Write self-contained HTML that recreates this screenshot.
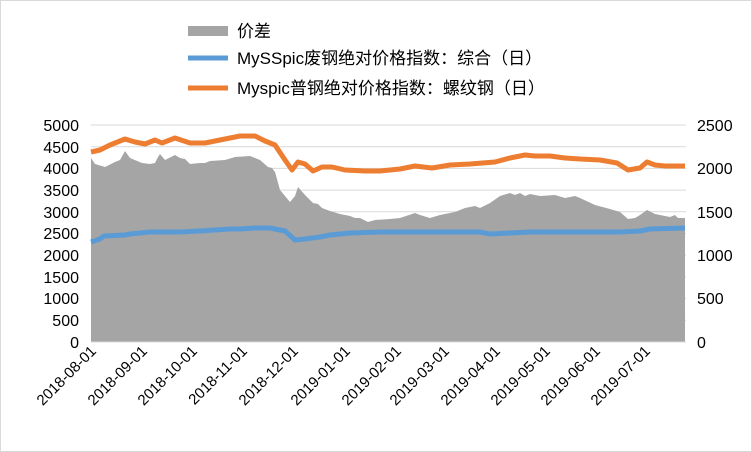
<!DOCTYPE html>
<html><head><meta charset="utf-8"><style>
body{margin:0;background:#fff}
svg{display:block;font-family:"Liberation Sans","Noto Sans CJK SC",sans-serif}
</style></head><body>
<svg width="752" height="452" viewBox="0 0 752 452">
<rect x="0.5" y="0.5" width="751" height="451" fill="#fff" stroke="#d9d9d9"/>
<g stroke="#d9d9d9" stroke-width="1">
<line x1="91" x2="686" y1="125" y2="125"/><line x1="91" x2="686" y1="146.7" y2="146.7"/><line x1="91" x2="686" y1="168.4" y2="168.4"/><line x1="91" x2="686" y1="190.1" y2="190.1"/><line x1="91" x2="686" y1="211.8" y2="211.8"/><line x1="91" x2="686" y1="233.5" y2="233.5"/><line x1="91" x2="686" y1="255.2" y2="255.2"/><line x1="91" x2="686" y1="276.9" y2="276.9"/><line x1="91" x2="686" y1="298.6" y2="298.6"/><line x1="91" x2="686" y1="320.3" y2="320.3"/>
</g>
<polygon fill="#a5a5a5" points="91,342 91,158 95,164 105,167 115,162 120,160 125,151 130,158 142,163 150,164 155,163 158,157 160,154 165,160 175,155 180,158 185,159 190,164 200,163 205,163 210,161 225,160 235,157 250,156 260,160 268,167 272,168 275,172 280,190 290,202 295,196 298,187 305,195 313,203 318,204 322,208 330,211 340,214 350,216 355,218 360,218 368,222 375,220 390,219 400,218 415,213 420,215 430,218 440,215 450,213 455,212 465,208 475,206 480,208 490,203 500,196 510,193 515,195 520,193 525,196 530,194 540,196 555,195 565,198 575,196 580,198 595,205 610,209 620,212 628,219 635,218 640,215 647,210 655,214 670,217 675,215 678,218 685,218 685,342"/>
<line x1="91" x2="686" y1="342" y2="342" stroke="#d9d9d9"/>
<polyline fill="none" stroke="#5b9bd5" stroke-width="5" stroke-linejoin="round" points="91,242 100,239 104,236 125,235 130,234 150,232 180,232 200,231 215,230 230,229 240,229 255,228 270,228 285,231 295,240 305,239 320,237 330,235 350,233 380,232 450,232 480,232 490,234 510,233 530,232 560,232 570,232 600,232 620,232 640,231 650,229 685,228"/>
<polyline fill="none" stroke="#ed7d31" stroke-width="5" stroke-linejoin="round" points="91,152 100,150 110,145 125,139 135,142 145,144 155,140 162,143 175,138 190,143 205,143 220,140 240,136 255,136 265,141 275,145 285,160 292,170 298,162 305,164 313,171 322,167 332,167 345,170 365,171 380,171 400,169 415,166 432,168 450,165 470,164 495,162 510,158 525,155 535,156 550,156 565,158 580,159 600,160 617,163 628,170 640,168 647,162 655,165 665,166 685,166"/>
<g font-size="16" fill="#000" text-anchor="end">
<text x="79" y="131">5000</text><text x="79" y="153">4500</text><text x="79" y="174">4000</text><text x="79" y="196">3500</text><text x="79" y="218">3000</text><text x="79" y="239">2500</text><text x="79" y="261">2000</text><text x="79" y="283">1500</text><text x="79" y="304">1000</text><text x="79" y="326">500</text><text x="79" y="348">0</text>
</g>
<g font-size="16" fill="#000" text-anchor="start">
<text x="697" y="131">2500</text><text x="697" y="174">2000</text><text x="697" y="218">1500</text><text x="697" y="261">1000</text><text x="697" y="304">500</text><text x="697" y="348">0</text>
</g>
<g font-size="15" fill="#000" text-anchor="end">
<text transform="translate(97,352) rotate(-45)">2018-08-01</text>
<text transform="translate(148,352) rotate(-45)">2018-09-01</text>
<text transform="translate(198,352) rotate(-45)">2018-10-01</text>
<text transform="translate(248,352) rotate(-45)">2018-11-01</text>
<text transform="translate(299,352) rotate(-45)">2018-12-01</text>
<text transform="translate(351,352) rotate(-45)">2019-01-01</text>
<text transform="translate(402,352) rotate(-45)">2019-02-01</text>
<text transform="translate(450,352) rotate(-45)">2019-03-01</text>
<text transform="translate(501,352) rotate(-45)">2019-04-01</text>
<text transform="translate(551,352) rotate(-45)">2019-05-01</text>
<text transform="translate(601,352) rotate(-45)">2019-06-01</text>
<text transform="translate(651,352) rotate(-45)">2019-07-01</text>
</g>
<rect x="188" y="26" width="40" height="10" fill="#a5a5a5"/>
<line x1="188" x2="228" y1="58" y2="58" stroke="#5b9bd5" stroke-width="5"/>
<line x1="188" x2="228" y1="88" y2="88" stroke="#ed7d31" stroke-width="5"/>
<g font-size="17" fill="#000">
<text x="237" y="37">价差</text>
<text x="237" y="64">MySSpic废钢绝对价格指数：综合（日）</text>
<text x="237" y="94">Myspic普钢绝对价格指数：螺纹钢（日）</text>
</g>
</svg>
</body></html>
